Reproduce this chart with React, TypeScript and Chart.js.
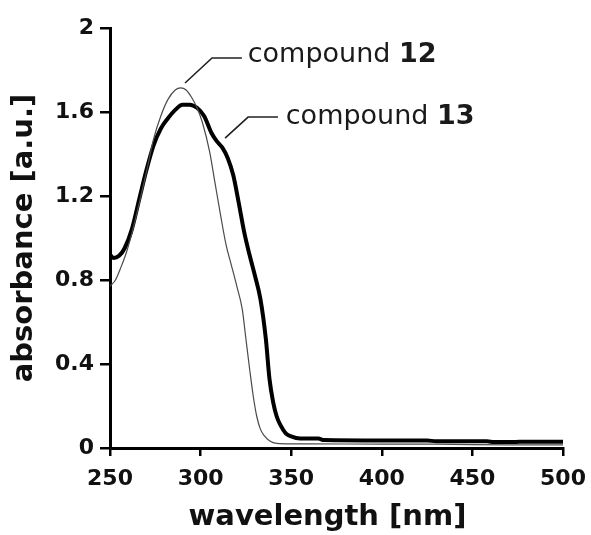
import React, { useEffect, useRef } from "react";
import { Chart, registerables } from "chart.js";

Chart.register(...registerables);

// compound 12 (thin line)
const c12Wavelength = [250, 253, 256, 259, 262, 266, 270, 274, 278, 282, 286, 289, 292, 295, 298, 301, 305, 308, 311, 314, 317, 320, 323, 325, 327, 329, 331, 333, 335, 338, 342, 350, 360, 400, 430, 470, 500];
const c12Absorbance = [0.77, 0.8, 0.86, 0.93, 1.02, 1.16, 1.31, 1.47, 1.58, 1.66, 1.705, 1.715, 1.705, 1.67, 1.62, 1.55, 1.41, 1.26, 1.11, 0.97, 0.87, 0.77, 0.66, 0.52, 0.38, 0.25, 0.15, 0.09, 0.06, 0.035, 0.022, 0.02, 0.02, 0.018, 0.018, 0.015, 0.015];

// compound 13 (thick line)
const c13Wavelength = [250, 252, 255, 258, 262, 266, 270, 274, 278, 282, 286, 290, 294, 298, 302, 306, 309, 312, 315, 318, 321, 324, 327, 330, 333, 336, 338, 340, 342, 344, 347, 350, 355, 365, 368, 400, 425, 430, 458, 462, 472, 476, 500];
const c13Absorbance = [0.92, 0.905, 0.915, 0.95, 1.04, 1.18, 1.32, 1.44, 1.52, 1.57, 1.61, 1.635, 1.635, 1.62, 1.58, 1.5, 1.46, 1.43, 1.38, 1.3, 1.17, 1.03, 0.92, 0.82, 0.71, 0.52, 0.33, 0.22, 0.15, 0.11, 0.07, 0.055, 0.045, 0.045, 0.038, 0.036, 0.036, 0.032, 0.032, 0.028, 0.028, 0.03, 0.03];

const xTicks = [250, 300, 350, 400, 450, 500];
const yTicks = [0, 0.4, 0.8, 1.2, 1.6, 2];

const xTitle = "wavelength [nm]";
const yTitle = "absorbance [a.u.]";

// annotation labels: leader line anchor points in data units, text start
const annot12Line = [[291.4, 1.738], [306.3, 1.857], [322.8, 1.857]];
const annot12Text = { x: 326, y: 1.872, name: "compound ", num: "12" };
const annot13Line = [[313.5, 1.476], [326.2, 1.576], [342.7, 1.576]];
const annot13Text = { x: 347, y: 1.577, name: "compound ", num: "13" };

const FONT = "'DejaVu Sans'";

const annotPlugin = {
  id: "annotLabels",
  afterDraw(chart: any) {
    const { ctx, scales, chartArea } = chart;
    const xs = scales.x;
    const ys = scales.y;
    const items = [
      { line: annot12Line, text: annot12Text },
      { line: annot13Line, text: annot13Text },
    ];
    ctx.save();
    for (const it of items) {
      ctx.beginPath();
      it.line.forEach((p: number[], i: number) => {
        const px = xs.getPixelForValue(p[0]);
        const py = ys.getPixelForValue(p[1]);
        if (i === 0) ctx.moveTo(px, py);
        else ctx.lineTo(px, py);
      });
      ctx.strokeStyle = "#222";
      ctx.lineWidth = 1.6;
      ctx.stroke();
      const tx = xs.getPixelForValue(it.text.x);
      const ty = ys.getPixelForValue(it.text.y);
      ctx.fillStyle = "#1a1a1a";
      ctx.textBaseline = "middle";
      ctx.textAlign = "left";
      ctx.font = `27px ${FONT}`;
      ctx.fillText(it.text.name, tx, ty);
      const w = ctx.measureText(it.text.name).width;
      ctx.font = `bold 27px ${FONT}`;
      ctx.fillText(it.text.num, tx + w, ty);
    }
    // x axis title
    ctx.font = `bold 29px ${FONT}`;
    ctx.fillStyle = "#111";
    ctx.textAlign = "center";
    ctx.textBaseline = "middle";
    const cx = (chartArea.left + chartArea.right) / 2 - 9;
    ctx.fillText(xTitle, cx, chart.height - 18);
    ctx.restore();
  },
};

export default function App() {
  const ref = useRef<HTMLCanvasElement | null>(null);
  useEffect(() => {
    if (!ref.current) return;
    const chart = new Chart(ref.current, {
      type: "line",
      data: {
        datasets: [
          {
            label: "compound 12",
            data: c12Wavelength.map((x, i) => ({ x, y: c12Absorbance[i] })),
            borderColor: "#4a4a4a",
            borderWidth: 1.2,
            pointRadius: 0,
            cubicInterpolationMode: "monotone",
            fill: false,
          },
          {
            label: "compound 13",
            data: c13Wavelength.map((x, i) => ({ x, y: c13Absorbance[i] })),
            borderColor: "#000",
            borderWidth: 4,
            pointRadius: 0,
            cubicInterpolationMode: "monotone",
            fill: false,
          },
        ],
      },
      options: {
        responsive: false,
        animation: false,
        layout: { padding: { top: 28, right: 28, left: 0, bottom: 0 } },
        plugins: { legend: { display: false }, tooltip: { enabled: false } },
        scales: {
          x: {
            type: "linear",
            min: 250,
            max: 500,
            afterFit: (s: any) => { s.height = 87; s.paddingLeft = 0; s.paddingRight = 0; },
            afterBuildTicks: (s: any) => { s.ticks = xTicks.map((v) => ({ value: v })); },
            border: { display: true, color: "#000", width: 3 },
            grid: { display: true, drawOnChartArea: false, drawTicks: true, tickLength: 8, color: "#000", lineWidth: 2.5 },
            ticks: {
              padding: 10,
              color: "#111",
              font: { family: FONT, size: 22, weight: "bold" },
              maxRotation: 0,
              callback: (v: any) => String(v),
            },
            title: { display: false, text: xTitle },
          },
          y: {
            type: "linear",
            min: 0,
            max: 2,
            afterFit: (s: any) => { s.width = 110; s.paddingTop = 0; s.paddingBottom = 0; },
            afterBuildTicks: (s: any) => { s.ticks = yTicks.map((v) => ({ value: v })); },
            border: { display: true, color: "#000", width: 3 },
            grid: { display: true, drawOnChartArea: false, drawTicks: true, tickLength: 10, color: "#000", lineWidth: 2.5 },
            ticks: {
              padding: 6,
              color: "#111",
              font: { family: FONT, size: 22, weight: "bold" },
              callback: (v: any) => String(Math.round(v * 10) / 10),
            },
            title: {
              display: true,
              text: yTitle,
              color: "#111",
              font: { family: FONT, size: 29, weight: "bold" },
              padding: { top: 7, bottom: 0 },
            },
          },
        },
      },
      plugins: [annotPlugin],
    });
    return () => chart.destroy();
  }, []);
  return (
    <canvas
      ref={ref}
      width={591}
      height={535}
      style={{ position: "absolute", left: 0, top: 0, display: "block", background: "#fff" }}
    />
  );
}
